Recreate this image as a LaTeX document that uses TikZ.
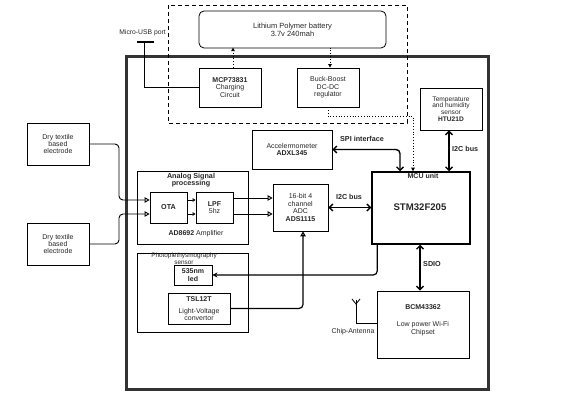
\documentclass[tikz,border=0pt]{standalone}
\usepackage{fontspec}
\setmainfont{Liberation Sans}
\usetikzlibrary{arrows.meta,calc}
\begin{document}
\begin{tikzpicture}[x=1pt,y=-1pt,
  txt/.style={font=\fontsize{7}{7.4}\selectfont, align=center, text=black!85, inner sep=0pt},
  smalltxt/.style={font=\fontsize{6.4}{6.6}\selectfont, align=center, text=black!85, inner sep=0pt},
  box/.style={draw, line width=0.8pt, inner sep=0pt, txt},
  thickbox/.style={draw, line width=1.5pt, inner sep=0pt, txt},
  conn/.style={line width=0.9pt, rounded corners=4pt},
  bus/.style={line width=1.4pt, rounded corners=4pt, {Straight Barb[length=3.5pt,width=7pt]}-{Straight Barb[length=3.5pt,width=7pt]}},
  oarrow/.style={conn, -{Triangle[open,length=5pt,width=5.5pt,fill=white]}},
  soarrow/.style={line width=0.7pt, -{Triangle[open,length=3pt,width=3.5pt,fill=white]}},
  dotarrow/.style={line width=0.8pt, dotted, -{Triangle[length=3.5pt,width=3.5pt]}},
]
\useasboundingbox (0,0) rectangle (573,403);

% outer frame and dashed power region
\draw[line width=3pt, black!80] (126,57) rectangle (488,389);
\draw[line width=0.9pt, dash pattern=on 4pt off 3pt] (168,5) rectangle (407,123);

% power
\node[box, rounded corners=5pt, minimum width=187pt, minimum height=37pt, font=\fontsize{7.5}{8}\selectfont] (bat) at (292.5,29.5) {Lithium Polymer battery\\3.7v 240mah};
\node[box, minimum width=62pt, minimum height=39pt] (mcp) at (230,87.5) {\textbf{MCP73831}\\Charging\\Circuit};
\node[box, minimum width=62pt, minimum height=39pt] (buck) at (328,87.5) {Buck-Boost\\DC-DC\\regulator};

\coordinate (usbl) at (137,42);
\coordinate (usbr) at (154,42);
\coordinate (usb) at (144,42);
\draw[line width=2.2pt] (usbl) -- (usbr);
\node[txt, anchor=east, font=\fontsize{6.8}{7}\selectfont] (usblbl) at (166,33) {Micro-USB port};
\draw[line width=0.9pt] (usb) |- (mcp.west);

\draw[dotarrow] ($(mcp.north)+(3,0)$) -- ($(mcp.north)+(3,-20)$);
\draw[dotarrow] ($(buck.north)+(2,-20)$) -- ($(buck.north)+(2,0)$);

% sensors and processing
\node[box, minimum width=62pt, minimum height=42pt, font=\fontsize{6.6}{6.6}\selectfont] (temp) at (451,109) {Temperature\\and humidity\\sensor\\\textbf{HTU21D}};
\node[box, minimum width=80pt, minimum height=39pt] (acc) at (292,149.5) {Accelermometer\\\textbf{ADXL345}};
\node[thickbox, minimum width=98pt, minimum height=72pt] (mcu) at (421,208) {};
\node[txt, font=\bfseries\fontsize{7}{7}\selectfont, anchor=north] (mculbl) at ($(mcu.north)+(2,1.5)$) {MCU unit};
\node[txt, font=\bfseries\fontsize{9.6}{10}\selectfont] (stm) at (420,207) {STM32F205};
\node[box, minimum width=55pt, minimum height=47pt] (adc) at (300.5,207.5) {16-bit 4\\channel\\ADC\\\textbf{ADS1115}};

\draw[dotarrow] (buck.south) -- ($(buck.south)+(0,9)$) -| ($(mcu.north)+(-8,0)$);

\draw[bus] (acc.east) -| ($(mcu.north)+(-21,0)$);
\node[txt, font=\bfseries\fontsize{7.2}{7.2}\selectfont] (spilbl) at (362,139) {SPI interface};
\draw[bus] (temp.south -| 449,0) -- (mcu.north -| 449,0);
\node[txt, font=\bfseries\fontsize{7.2}{7.2}\selectfont, anchor=west] (i2c1) at (452,149) {I2C bus};
\draw[bus] (adc.east) -- (mcu.west |- adc.east);
\node[txt, font=\bfseries\fontsize{7.2}{7.2}\selectfont] (i2c2) at (349,197) {I2C bus};

% electrodes and analog chain
\node[box, minimum width=62pt, minimum height=42pt] (e1) at (58,144) {Dry textile\\based\\electrode};
\node[box, minimum width=62pt, minimum height=42pt] (e2) at (58,244) {Dry textile\\based\\electrode};

\node[draw, line width=0.8pt, minimum width=111pt, minimum height=73pt, inner sep=0pt] (asp) at (192.5,207.5) {};
\node[txt, font=\bfseries\fontsize{7.2}{7.4}\selectfont] (asplbl) at (191,180) {Analog Signal\\processing};
\node[txt] (amplbl) at (196,234) {\textbf{AD8692} Amplifier};
\node[box, minimum width=37pt, minimum height=31pt, font=\bfseries\fontsize{7.2}{7.4}\selectfont] (ota) at (168.5,207.5) {OTA};
\node[box, minimum width=37pt, minimum height=31pt] (lpf) at (214.5,207.5) {\textbf{LPF}\\5hz};

\coordinate (in1) at (119,200);
\coordinate (in2) at (119,214);
\draw[oarrow] (e1.east) -| (in1) -- (ota.west |- in1);
\draw[oarrow] (e2.east) -| (in2) -- (ota.west |- in2);
\draw[soarrow] (ota.east |- in1) -- (lpf.west |- in1);
\draw[soarrow] (ota.east |- in2) -- (lpf.west |- in2);
\coordinate (a1) at (0,198);
\coordinate (a2) at (0,214);
\draw[oarrow] (lpf.east |- a1) -- (adc.west |- a1);
\draw[oarrow] (lpf.east |- a2) -- (adc.west |- a2);

% PPG sensor
\node[draw, line width=0.8pt, minimum width=111pt, minimum height=79pt, inner sep=0pt] (ppg) at (192.5,292.5) {};
\node[smalltxt] (ppglbl) at (184,259) {Photoplethysmography\\sensor};
\node[box, minimum width=38pt, minimum height=20pt, font=\bfseries\fontsize{7}{7.2}\selectfont] (led) at (193,275) {535nm\\led};
\node[box, minimum width=62pt, minimum height=31pt] (tsl) at (199,308.5) {\textbf{TSL12T}\\[5pt]Light-Voltage\\convertor};

\draw[line width=1.2pt, rounded corners=4pt, -{Stealth[length=5pt,width=5pt]}] ($(mcu.south west)+(6,0)$) |- (led.east);
\draw[oarrow, line width=1.2pt] (tsl.east) -| (adc.south -| 303,0);

% Wi-Fi
\node[box, minimum width=92pt, minimum height=67pt] (bcm) at (423,324.5) {};
\node[txt] (bcmlbl) at (423,320) {\textbf{BCM43362}\\[10pt]Low power Wi-Fi\\Chipset};
\draw[bus] (mcu.south -| 420,0) -- (bcm.north -| 420,0);
\node[txt, font=\bfseries\fontsize{7.2}{7.2}\selectfont] (sdio) at (432,264) {SDIO};

\coordinate (ant) at (356,300);
\coordinate (antb) at (356,323);
\draw[line width=0.8pt] (ant) -- (antb) -- (bcm.west |- antb);
\draw[line width=0.8pt] (352,299) -- (356,304) -- (360,299);
\node[txt] (antlbl) at (353,332) {Chip-Antenna};
\end{tikzpicture}
\end{document}
